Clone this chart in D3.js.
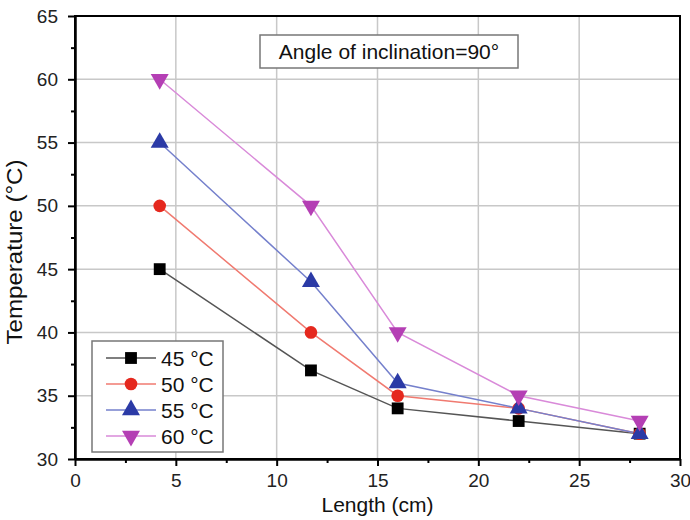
<!DOCTYPE html>
<html>
<head>
<meta charset="utf-8">
<script src="https://cdn.jsdelivr.net/npm/d3@7"></script>
<style>
  body { margin: 0; background: #fff; }
  text { font-family: "Liberation Sans", Arial, sans-serif; }
</style>
</head>
<body>
<div id="chart"></div>
<script>
// Datos
const lengths = [4.2, 11.7, 16, 22, 28];
const series = [
  { name: "45 °C", values: [45, 37, 34, 33, 32], color: "#000000", line: "#555555", symbol: d3.symbolSquare },
  { name: "50 °C", values: [50, 40, 35, 34, 32], color: "#e5281e", line: "#f07a70", symbol: d3.symbolCircle },
  { name: "55 °C", values: [55, 44, 36, 34, 32], color: "#2b3aa6", line: "#7580cc", symbol: d3.symbolTriangle },
  { name: "60 °C", values: [60, 50, 40, 35, 33], color: "#b43fb4", line: "#d98ad9", symbol: "down" }
];
const xTicks = [0, 5, 10, 15, 20, 25, 30];
const yTicks = [30, 35, 40, 45, 50, 55, 60, 65];

const width = 690, height = 520;
const margin = { top: 16, right: 10, bottom: 62, left: 75 };
const iw = 680 - margin.left, ih = 459 - margin.top;

const svg = d3.select("#chart").append("svg")
  .attr("width", width).attr("height", height);
const g = svg.append("g").attr("transform", `translate(${margin.left},${margin.top})`);

const x = d3.scaleLinear().domain([0, 30]).range([0, iw]);
const y = d3.scaleLinear().domain([30, 65]).range([ih, 0]);

// Rejilla
g.selectAll(".gx").data(xTicks.slice(1, -1)).enter().append("line")
  .attr("x1", d => x(d)).attr("x2", d => x(d)).attr("y1", 0).attr("y2", ih)
  .attr("stroke", "#c8c8c8").attr("stroke-width", 1.5);
g.selectAll(".gy").data(yTicks.slice(1, -1)).enter().append("line")
  .attr("y1", d => y(d)).attr("y2", d => y(d)).attr("x1", 0).attr("x2", iw)
  .attr("stroke", "#c8c8c8").attr("stroke-width", 1.5);

// Ejes
const xAxis = g.append("g").attr("transform", `translate(0,${ih})`)
  .call(d3.axisBottom(x).tickValues(xTicks).tickSize(7).tickPadding(8).tickSizeOuter(0));
const xMinor = g.append("g").attr("transform", `translate(0,${ih})`)
  .call(d3.axisBottom(x).tickValues(d3.range(2.5, 30, 5)).tickSize(4).tickFormat("").tickSizeOuter(0));
const yAxis = g.append("g")
  .call(d3.axisLeft(y).tickValues(yTicks).tickSize(7).tickPadding(10).tickSizeOuter(0));
const yMinor = g.append("g")
  .call(d3.axisLeft(y).tickValues(d3.range(32.5, 65, 5)).tickSize(4).tickFormat("").tickSizeOuter(0));
[xAxis, yAxis, xMinor, yMinor].forEach(a => {
  a.selectAll("path, line").attr("stroke", "#000").attr("stroke-width", 2);
  a.selectAll("text").attr("font-size", 19).attr("fill", "#222");
});

// Marco
g.append("rect").attr("width", iw).attr("height", ih)
  .attr("fill", "none").attr("stroke", "#000").attr("stroke-width", 2);

// Títulos
svg.append("text").attr("x", margin.left + iw / 2).attr("y", 512)
  .attr("text-anchor", "middle").attr("font-size", 21).attr("fill", "#111").text("Length (cm)");
svg.append("text").attr("transform", `translate(22,252) rotate(-90)`)
  .attr("text-anchor", "middle").attr("font-size", 22).attr("fill", "#111")
  .attr("textLength", 185).attr("lengthAdjust", "spacingAndGlyphs").text("Temperature (°C)");

// Símbolos
function symbolPath(sym, size) {
  if (sym === "down") {
    return d3.symbol().type(d3.symbolTriangle).size(size)();
  }
  return d3.symbol().type(sym).size(size)();
}
const symSize = s => s.symbol === d3.symbolCircle ? 125 : 140;
const line = d3.line().x((d, i) => x(lengths[i])).y(d => y(d));

series.forEach(s => {
  g.append("path").datum(s.values).attr("d", line)
    .attr("fill", "none").attr("stroke", s.line).attr("stroke-width", 1.5);
});
series.forEach(s => {
  g.selectAll(null).data(s.values).enter().append("path")
    .attr("d", symbolPath(s.symbol, symSize(s)))
    .attr("transform", (d, i) => `translate(${x(lengths[i])},${y(d)})${s.symbol === "down" ? " rotate(180)" : ""}`)
    .attr("fill", s.color);
});

// Leyenda
const leg = svg.append("g").attr("transform", "translate(92,341)");
leg.append("rect").attr("width", 131).attr("height", 111)
  .attr("fill", "#fff").attr("stroke", "#777").attr("stroke-width", 1.5);
series.forEach((s, i) => {
  const cy = 17 + i * 26;
  leg.append("line").attr("x1", 14).attr("x2", 64).attr("y1", cy).attr("y2", cy)
    .attr("stroke", s.line).attr("stroke-width", 1.5);
  leg.append("path").attr("d", symbolPath(s.symbol, symSize(s)))
    .attr("transform", `translate(39,${cy})${s.symbol === "down" ? " rotate(180)" : ""}`)
    .attr("fill", s.color);
  leg.append("text").attr("x", 69).attr("y", cy + 7.5).attr("font-size", 21).attr("fill", "#111").text(s.name);
});

// Anotación
const ann = svg.append("g").attr("transform", "translate(260,35)");
ann.append("rect").attr("width", 258).attr("height", 33)
  .attr("fill", "#fff").attr("stroke", "#777").attr("stroke-width", 1.5);
ann.append("text").attr("x", 129).attr("y", 24).attr("text-anchor", "middle")
  .attr("font-size", 21).attr("fill", "#111").text("Angle of inclination=90°");
</script>
</body>
</html>
